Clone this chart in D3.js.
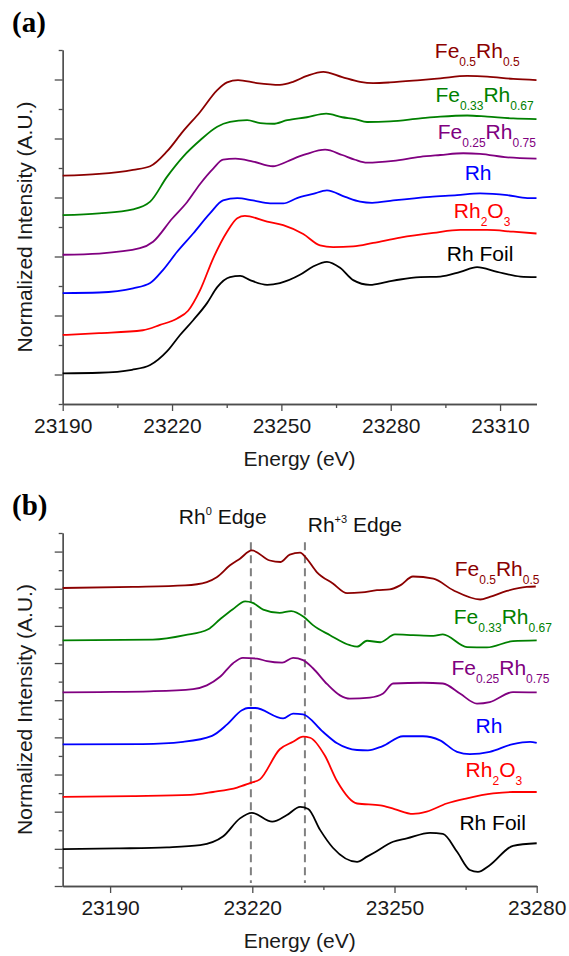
<!DOCTYPE html>
<html>
<head>
<meta charset="utf-8">
<script src="https://cdn.jsdelivr.net/npm/d3@7"></script>
<style>
  body { margin: 0; background: #fff; }
  text { white-space: pre; }
</style>
</head>
<body>
<svg id="chart" width="569" height="956"></svg>
<script>
// ---- data (energy in eV, normalized intensity with vertical offsets) ----
const seriesNames = ["Fe_{0.5}Rh_{0.5}", "Fe_{0.33}Rh_{0.67}", "Fe_{0.25}Rh_{0.75}", "Rh", "Rh_{2}O_{3}", "Rh Foil"];
const seriesColors = ["#8b0000", "#008000", "#800080", "#0000ff", "#ff0000", "#000000"];

// panel (a): XANES
const aFe50 = [[23190,3.87],[23200,3.90],[23209.3,3.97],[23214,4.03],[23218.6,4.28],[23223,4.62],[23227.7,4.95],[23232.4,5.32],[23235.1,5.45],[23238.1,5.49],[23243.3,5.44],[23249.6,5.41],[23253.2,5.46],[23257,5.56],[23261.5,5.63],[23266.7,5.54],[23271.6,5.46],[23275.2,5.44],[23279.8,5.45],[23288.1,5.49],[23293.6,5.52],[23301,5.56],[23306.5,5.55],[23313.6,5.51],[23320,5.49]];
const aFe33 = [[23190,3.20],[23200,3.23],[23209.3,3.30],[23214,3.43],[23218.6,3.85],[23223,4.19],[23227.7,4.47],[23232.4,4.70],[23235.9,4.78],[23240.6,4.81],[23244.2,4.76],[23247.7,4.75],[23251.6,4.81],[23257,4.86],[23262.3,4.92],[23266.7,4.86],[23270.2,4.83],[23273.5,4.78],[23279.8,4.79],[23288.1,4.84],[23293.6,4.87],[23301,4.89],[23306.5,4.87],[23313.6,4.84],[23320,4.83]];
const aFe25 = [[23190,2.53],[23200,2.55],[23211.2,2.64],[23214.8,2.75],[23220,3.14],[23224.1,3.42],[23227.7,3.73],[23231.3,3.99],[23234,4.14],[23237.4,4.16],[23242.2,4.11],[23247.7,4.03],[23251.6,4.11],[23255.1,4.20],[23257,4.24],[23262,4.31],[23266.7,4.22],[23270.2,4.14],[23273.5,4.09],[23280.7,4.12],[23288.1,4.19],[23293.6,4.22],[23299.9,4.25],[23304.5,4.24],[23312,4.18],[23320,4.16]];
const aRh = [[23190,1.88],[23200,1.89],[23209.3,1.96],[23214,2.05],[23217.5,2.27],[23221.4,2.58],[23225.8,2.89],[23230.4,3.23],[23234,3.45],[23237.9,3.49],[23242.2,3.45],[23246.9,3.40],[23250.5,3.40],[23254.3,3.49],[23258.7,3.56],[23262.5,3.62],[23267.5,3.51],[23271.6,3.43],[23274.9,3.41],[23280.7,3.45],[23290.8,3.51],[23298.2,3.54],[23304.5,3.57],[23312,3.54],[23317.5,3.49],[23320,3.49]];
const aRh2O3 = [[23190,1.17],[23200,1.20],[23212,1.25],[23216.7,1.34],[23221.4,1.45],[23224.4,1.58],[23227.7,1.93],[23231.3,2.47],[23235.1,2.92],[23237.9,3.15],[23240,3.19],[23246.1,3.09],[23250.5,3.03],[23256,2.88],[23260.6,2.69],[23264.2,2.66],[23269.7,2.67],[23275.2,2.73],[23282.6,2.82],[23291.7,2.90],[23299.1,2.95],[23306.5,2.95],[23313.6,2.92],[23320,2.89]];
const aFoil = [[23190,0.52],[23200,0.53],[23209,0.58],[23214,0.66],[23218.6,0.89],[23222.2,1.17],[23225.8,1.42],[23229.6,1.71],[23232.4,1.98],[23235.9,2.15],[23238.7,2.17],[23241.4,2.10],[23246.1,2.02],[23249.6,2.05],[23255.1,2.19],[23258.7,2.33],[23262.5,2.41],[23266.1,2.31],[23269.7,2.10],[23274.3,2.02],[23279,2.07],[23282.6,2.11],[23288.1,2.15],[23293.6,2.16],[23299.1,2.24],[23303.7,2.32],[23309.2,2.24],[23315.6,2.16],[23320,2.15]];

// panel (b): first derivative
const bFe50 = [[23180,8.02],[23194.8,8.05],[23205.8,8.09],[23210.4,8.18],[23212.5,8.31],[23215.3,8.63],[23217.4,8.81],[23219.9,9.03],[23223.7,8.76],[23226,8.72],[23227.9,8.92],[23230.1,8.97],[23231.3,8.84],[23233.6,8.45],[23237,8.14],[23240,7.88],[23243.1,7.90],[23246.3,7.96],[23249,7.98],[23251.2,8.09],[23253.9,8.33],[23258.2,8.27],[23262.4,7.96],[23268.1,7.71],[23270.1,7.78],[23273.7,7.94],[23277.9,8.05],[23279.8,8.06]];
const bFe33 = [[23180,6.61],[23199,6.63],[23205.8,6.75],[23210.7,6.91],[23213.2,7.18],[23215.9,7.45],[23218.5,7.66],[23220.1,7.62],[23222.3,7.44],[23225.8,7.35],[23228.2,7.40],[23230.9,7.24],[23232.8,7.02],[23236.4,6.75],[23240.6,6.48],[23242.1,6.44],[23244.2,6.60],[23247,6.56],[23250.1,6.77],[23253.9,6.75],[23258.2,6.73],[23260.2,6.77],[23265.3,6.43],[23269.5,6.42],[23275,6.59],[23280,6.61]];
const bFe25 = [[23180,5.21],[23187.9,5.22],[23198.4,5.24],[23207.5,5.30],[23210.4,5.40],[23213.2,5.63],[23215.9,5.99],[23218,6.14],[23221,6.12],[23223.1,6.05],[23226.3,6.01],[23228.6,6.14],[23230.7,6.08],[23232.8,5.86],[23235.8,5.43],[23238.5,5.13],[23240.6,5.04],[23244.8,5.07],[23247.6,5.18],[23249.7,5.45],[23256,5.47],[23260.2,5.45],[23263.8,5.18],[23267.4,4.91],[23270.1,4.95],[23275,5.22],[23280,5.21]];
const bRh = [[23180,3.81],[23196.9,3.82],[23205.4,3.88],[23211.5,4.04],[23214.7,4.35],[23217.8,4.73],[23219.1,4.79],[23220.6,4.79],[23226.5,4.51],[23228.6,4.64],[23230.7,4.62],[23234.9,4.15],[23237.9,3.84],[23242.1,3.66],[23244.4,3.65],[23247.4,3.76],[23251.8,4.03],[23256,4.03],[23259.6,3.92],[23263.2,3.61],[23265.9,3.55],[23270.1,3.61],[23275,3.82],[23278.6,3.88],[23280,3.85]];
const bRh2O3 = [[23180,2.40],[23194.8,2.42],[23206.9,2.45],[23211.7,2.53],[23216.8,2.65],[23219.5,2.77],[23221.6,2.87],[23225.8,3.68],[23228.6,3.88],[23230.7,4.02],[23232.2,3.99],[23235.3,3.51],[23237.9,2.82],[23242.1,2.22],[23247,2.17],[23250,2.07],[23253.9,1.94],[23256.8,2.00],[23261,2.22],[23265.3,2.36],[23270.8,2.49],[23275,2.53],[23280,2.53]];
const bFoil = [[23180,0.99],[23191.5,1.01],[23202,1.04],[23209,1.10],[23213.8,1.33],[23217.4,1.82],[23219.9,1.97],[23224.2,1.73],[23227.3,1.91],[23230.1,2.13],[23231.8,2.07],[23234.3,1.51],[23237,1.03],[23242.1,0.65],[23244.2,0.79],[23245.5,0.88],[23249.7,1.19],[23252.6,1.28],[23257.5,1.43],[23260.2,1.40],[23263.2,0.92],[23265.9,0.43],[23267.6,0.38],[23270.1,0.56],[23275,1.08],[23280,1.15]];

// ticks
const xTicksA = [23190, 23220, 23250, 23280, 23310];
const xMinorA = [23205, 23235, 23265, 23295];
const yMajorA = [0.5, 1.5, 2.5, 3.5, 4.5, 5.5];
const yMinorA = [0, 1, 2, 3, 4, 5, 6];
const xTicksB = [23190, 23220, 23250, 23280];
const xMinorB = [23205, 23235, 23265];
const yMajorB = [0, 1, 2, 3, 4, 5, 6, 7, 8, 9];
const yMinorB = [0.5, 1.5, 2.5, 3.5, 4.5, 5.5, 6.5, 7.5, 8.5, 9.5];

// edge markers (panel b)
const edgeNames = ["Rh^{0} Edge", "Rh^{+3} Edge"];
const edgeEnergies = [23219.7, 23231.1];

// ---- drawing ----
const svg = d3.select("#chart");
const font = "'Liberation Sans', Arial, sans-serif";

function rich(text, str) {
  const parts = str.split(/([_^]\{[^}]*\})/).filter(s => s);
  let cur = 0;
  parts.forEach(p => {
    let shift = 0, size = null, t = p;
    if (p[0] === "_") { shift = 8; size = 12; t = p.slice(2, -1); }
    else if (p[0] === "^") { shift = -9; size = 11; t = p.slice(2, -1); }
    text.append("tspan").attr("dy", shift - cur).attr("font-size", size).text(t);
    cur = shift;
  });
}

function panel(o) {
  const x = d3.scaleLinear().domain(o.xDomain).range([o.left, o.right]);
  const y = d3.scaleLinear().domain(o.yDomain).range([o.bottom, o.top]);
  const g = svg.append("g").attr("font-family", font);

  // axes
  g.append("g").attr("transform", `translate(0,${o.bottom})`)
    .call(d3.axisBottom(x).tickValues(o.xMinor).tickSize(4).tickSizeOuter(0).tickFormat(""));
  g.append("g").attr("transform", `translate(0,${o.bottom})`)
    .call(d3.axisBottom(x).tickValues(o.xMajor).tickSize(7).tickPadding(7).tickSizeOuter(0).tickFormat(d3.format("d")));
  g.append("g").attr("transform", `translate(${o.left},0)`)
    .call(d3.axisLeft(y).tickValues(o.yMinor).tickSize(4).tickSizeOuter(0).tickFormat(""));
  g.append("g").attr("transform", `translate(${o.left},0)`)
    .call(d3.axisLeft(y).tickValues(o.yMajor).tickSize(8).tickSizeOuter(0).tickFormat(""));
  g.selectAll(".domain, .tick line").attr("stroke", "#4d4d4d").attr("stroke-width", 1.3);
  g.selectAll(".tick text").attr("font-family", font).attr("font-size", 21).attr("fill", "#1a1a1a");

  // edge dashed lines
  if (o.edges) {
    g.selectAll(".edge").data(o.edges).join("line")
      .attr("x1", d => x(d)).attr("x2", d => x(d))
      .attr("y1", y(9.25)).attr("y2", y(0.08))
      .attr("stroke", "#808080").attr("stroke-width", 2)
      .attr("stroke-dasharray", "8,5");
    o.edgeLabels.forEach((s, i) => {
      const t = g.append("text").attr("x", x(o.edgeLabelPos[i][0])).attr("y", y(o.edgeLabelPos[i][1]))
        .attr("font-size", 21).attr("fill", "#111");
      rich(t, s);
    });
  }

  // spectra
  const line = d3.line().x(d => x(d[0])).y(d => y(d[1])).curve(o.curve);
  g.selectAll(".spec").data(o.series).join("path")
    .attr("fill", "none")
    .attr("stroke", (d, i) => seriesColors[i])
    .attr("stroke-width", 1.8)
    .attr("stroke-linejoin", "round")
    .attr("d", line);

  // series labels
  seriesNames.forEach((s, i) => {
    const t = g.append("text").attr("x", x(o.labelPos[i][0])).attr("y", y(o.labelPos[i][1]))
      .attr("font-size", 21).attr("fill", seriesColors[i]);
    rich(t, s);
  });

  // titles
  g.append("text").attr("x", (o.left + o.right) / 2).attr("y", o.bottom + 62)
    .attr("text-anchor", "middle").attr("font-size", 21).attr("fill", "#1a1a1a")
    .text("Energy (eV)");
  g.append("text").attr("transform", `translate(32,${(o.top + o.bottom) / 2}) rotate(-90)`)
    .attr("text-anchor", "middle").attr("font-size", 21).attr("fill", "#1a1a1a")
    .text("Normalized Intensity (A.U.)");
  g.append("text").attr("x", 12).attr("y", o.top - 18)
    .attr("font-family", "'Liberation Serif', 'Times New Roman', serif")
    .attr("font-weight", "bold").attr("font-size", 29).text(o.tag);
}

panel({
  tag: "(a)", left: 62.7, right: 536.5, top: 50, bottom: 404,
  xDomain: [23190, 23320], yDomain: [0, 6],
  xMajor: xTicksA, xMinor: xMinorA, yMajor: yMajorA, yMinor: yMinorA,
  series: [aFe50, aFe33, aFe25, aRh, aRh2O3, aFoil],
  labelPos: [[23292.1,5.86],[23292.3,5.12],[23292.9,4.49],[23300.3,3.80],[23297.3,3.16],[23295.4,2.42]],
  curve: d3.curveMonotoneX
});

panel({
  tag: "(b)", left: 62.7, right: 536.7, top: 533, bottom: 886,
  xDomain: [23180, 23280], yDomain: [0, 9.5],
  xMajor: xTicksB, xMinor: xMinorB, yMajor: yMajorB, yMinor: yMinorB,
  series: [bFe50, bFe33, bFe25, bRh, bRh2O3, bFoil],
  labelPos: [[23262.7,8.33],[23262.5,7.04],[23262,5.67],[23267.1,4.12],[23265,2.94],[23263.7,1.52]],
  edges: edgeEnergies, edgeLabels: edgeNames,
  edgeLabelPos: [[23204.5, 9.75], [23231.7, 9.54]],
  curve: d3.curveMonotoneX
});
</script>
</body>
</html>
